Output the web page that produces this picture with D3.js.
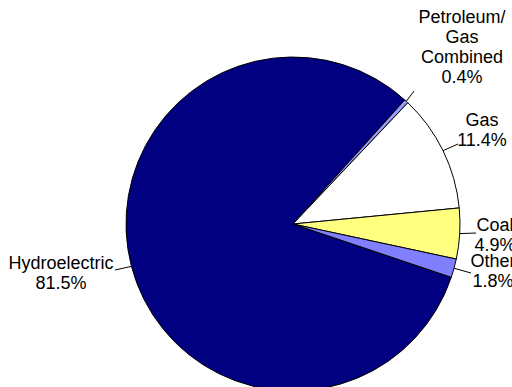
<!DOCTYPE html>
<html>
<head>
<meta charset="utf-8">
<script src="https://cdn.jsdelivr.net/npm/d3@7"></script>
<style>
  html, body { margin: 0; padding: 0; background: #fff; }
  svg { display: block; }
  .lbl { font-family: "Liberation Sans", Arial, sans-serif; font-size: 18px; fill: #000; }
</style>
</head>
<body>
<svg id="chart" width="512" height="387"></svg>
<script>
const categories = ["Hydroelectric", "Petroleum/Gas Combined", "Gas", "Coal", "Other"];
const shares = [81.5, 0.4, 11.4, 4.9, 1.8];
const labelNames = [["Hydroelectric"], ["Petroleum/", "Gas", "Combined"], ["Gas"], ["Coal"], ["Other"]];
const colours = ["#000080", "#9999ff", "#ffffff", "#ffff80", "#8080ff"];

// label placement, relative to pie centre: text centre x, first baseline y, leader end
const labelPlace = {
    "Hydroelectric": {x: -232, y: 45, lx: -178, ly: 46},
    "Petroleum/Gas Combined": {x: 169, y: -201, lx: 121, ly: -133},
    "Gas": {x: 189, y: -98, lx: 165, ly: -80},
    "Coal": {x: 202, y: 7, lx: 183, ly: 9},
    "Other": {x: 200, y: 43, lx: 178, ly: 49}
};

const cx = 293, cy = 224, radius = 167;
const LINE = 20;

const svg = d3.select("#chart");
const g = svg.append("g").attr("transform", "translate(" + cx + "," + cy + ")");

const rad = deg => deg * Math.PI / 180;
const start = rad(108.6);

const pie = d3.pie()
    .sort(null)
    .value(d => d.value)
    .startAngle(start)
    .endAngle(start + 2 * Math.PI);

const data = categories.map((c, i) => ({name: c, value: shares[i], lines: labelNames[i], colour: colours[i]}));
const arcs = pie(data);

const arc = d3.arc().innerRadius(0).outerRadius(radius);
const edge = d3.arc().innerRadius(radius).outerRadius(radius);

g.selectAll("path.slice")
    .data(arcs)
    .enter()
    .append("path")
    .attr("class", "slice")
    .attr("d", arc)
    .attr("fill", d => d.data.colour)
    .attr("stroke", "#000")
    .attr("stroke-width", 1)
    .attr("stroke-linejoin", "round");

// leader lines
g.selectAll("line.leader")
    .data(arcs)
    .enter()
    .append("line")
    .attr("class", "leader")
    .attr("x1", d => edge.centroid(d)[0])
    .attr("y1", d => edge.centroid(d)[1])
    .attr("x2", d => labelPlace[d.data.name].lx)
    .attr("y2", d => labelPlace[d.data.name].ly)
    .attr("stroke", "#000")
    .attr("stroke-width", 1);

const fmt = v => d3.format(".1f")(v) + "%";

arcs.forEach(d => {
    const p = labelPlace[d.data.name];
    const rows = d.data.lines.concat([fmt(d.data.value)]);
    const t = g.append("text")
        .attr("class", "lbl")
        .attr("text-anchor", "middle");
    rows.forEach((r, i) => {
        t.append("tspan")
            .attr("x", p.x)
            .attr("y", p.y + i * LINE)
            .text(r);
    });
});
</script>
</body>
</html>
